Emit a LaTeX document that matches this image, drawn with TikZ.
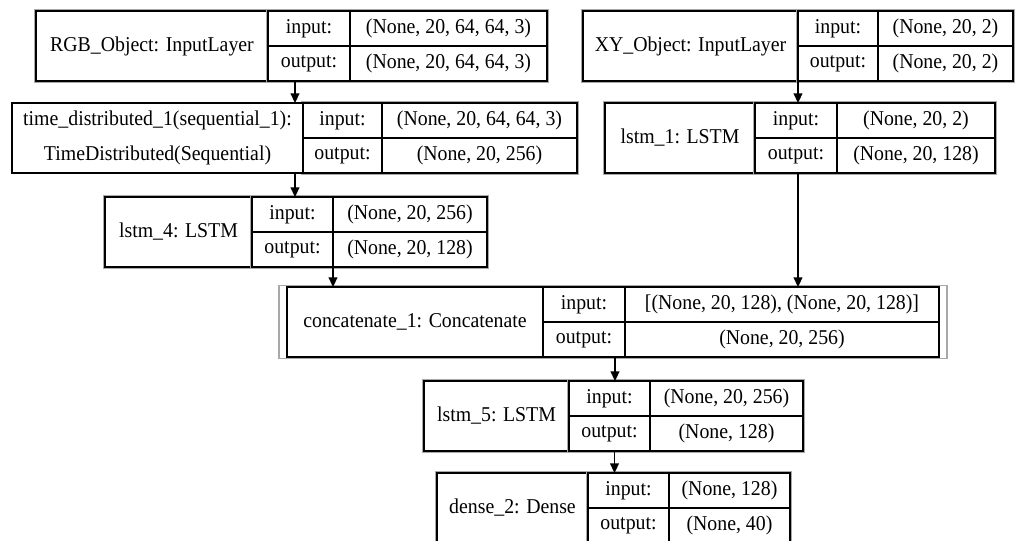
\documentclass[tikz,border=0pt]{standalone}
\usepackage{fontspec}
\setmainfont{Liberation Serif}[FakeStretch=0.94]
\usepackage{tikz}
\usetikzlibrary{positioning, arrows.meta, fit}
\definecolor{framegray}{HTML}{A8A8A8}
\newlength{\px}
\setlength{\px}{0.02cm}

\tikzset{
  cell/.style={draw, line width=0.7pt, inner sep=0pt, outer sep=0pt, anchor=north west,
               font=\fontsize{12}{14}\selectfont},
  frame/.style={draw=framegray, line width=0.6pt, inner sep=1.5\px},
  arr/.style={-{Triangle[length=5.5pt,width=5pt]}, line width=1pt},
}

% one keras layer: name cell, then the input/output table
\newcommand{\kerasLayer}[9]{%
  \node[cell, minimum width=#4\px, minimum height=70\px] (#1) at (#2,#3) {#7};
  \node[cell, minimum width=#5\px, minimum height=35\px] (#1-in) at (#1.north east) {input:};
  \node[cell, minimum width=#6\px, minimum height=35\px] (#1-inv) at (#1-in.north east) {#8};
  \node[cell, minimum width=#5\px, minimum height=35\px] (#1-out) at (#1-in.south west) {output:};
  \node[cell, minimum width=#6\px, minimum height=35\px] (#1-outv) at (#1-out.north east) {#9};
}

\begin{document}
\begin{tikzpicture}[x=1\px, y=-1\px]
  \useasboundingbox (0,0) rectangle (1018,541);

  \kerasLayer{rgb}{36}{11}{232}{82}{197}{RGB\_Object: InputLayer}{(None, 20, 64, 64, 3)}{(None, 20, 64, 64, 3)}
  \kerasLayer{xy}{583}{11}{215}{80}{135}{XY\_Object: InputLayer}{(None, 20, 2)}{(None, 20, 2)}
  \kerasLayer{l1}{605}{103}{150}{82}{158}{lstm\_1: LSTM}{(None, 20, 2)}{(None, 20, 128)}
  \kerasLayer{l4}{105}{197}{147}{81}{154}{lstm\_4: LSTM}{(None, 20, 256)}{(None, 20, 128)}
  \kerasLayer{cat}{287}{287}{256}{82}{314}{concatenate\_1: Concatenate}{[(None, 20, 128), (None, 20, 128)]}{(None, 20, 256)}
  \kerasLayer{l5}{424}{381}{145}{81}{153}{lstm\_5: LSTM}{(None, 20, 256)}{(None, 128)}
  \kerasLayer{dense}{437}{473}{151}{81}{121}{dense\_2: Dense}{(None, 128)}{(None, 40)}

  % time distributed: table behind, name box on top
  \node[cell, minimum width=79\px, minimum height=35\px] (td-in) at (303,103) {input:};
  \node[cell, minimum width=195\px, minimum height=35\px] (td-inv) at (td-in.north east) {(None, 20, 64, 64, 3)};
  \node[cell, minimum width=79\px, minimum height=35\px] (td-out) at (td-in.south west) {output:};
  \node[cell, minimum width=195\px, minimum height=35\px] (td-outv) at (td-out.north east) {(None, 20, 256)};

  % grey outer frames
  \foreach \n in {rgb, xy, l1, l4, l5, dense, td}
    \node[frame, fit=(\n-in)(\n-outv)] (\n-frame) {};
  \foreach \n in {rgb, xy, l1, l4, l5, dense}
    \node[frame, fit=(\n)(\n-outv)] (\n-box) {};
  \node[frame, inner xsep=8\px, fit=(cat)(cat-outv)] (cat-box) {};

  \node[cell, fill=white, line width=0.9pt, minimum width=291\px, minimum height=70\px, align=center,
        font=\fontsize{12}{20}\selectfont] (td) at (12,103)
        {time\_distributed\_1(sequential\_1):\\TimeDistributed(Sequential)};

  % arrow start points
  \coordinate (rgb-s) at ([xshift=27\px]rgb-out.south west);
  \coordinate (td-s) at ([xshift=-8\px]td.south east);
  \coordinate (l1-s) at (l1-out.south -| xy.south east);
  \coordinate (cat-s) at ([xshift=-10\px]cat-out.south east);
  \coordinate (l5-s) at ([xshift=5\px]l5-out.south);

  \draw[arr] (rgb-s) -- (rgb-s |- td.north);
  \draw[arr] (td-s) -- (td-s |- l4.north);
  \draw[arr] (l4-out.south east) -- (l4-out.south east |- cat.north);
  \draw[arr] (xy.south east) -- (xy.south east |- l1.north);
  \draw[arr] (l1-s) -- (l1-s |- cat.north);
  \draw[arr] (cat-s) -- (cat-s |- l5.north);
  \draw[arr] (l5-s) -- (l5-s |- dense.north);
\end{tikzpicture}
\end{document}
